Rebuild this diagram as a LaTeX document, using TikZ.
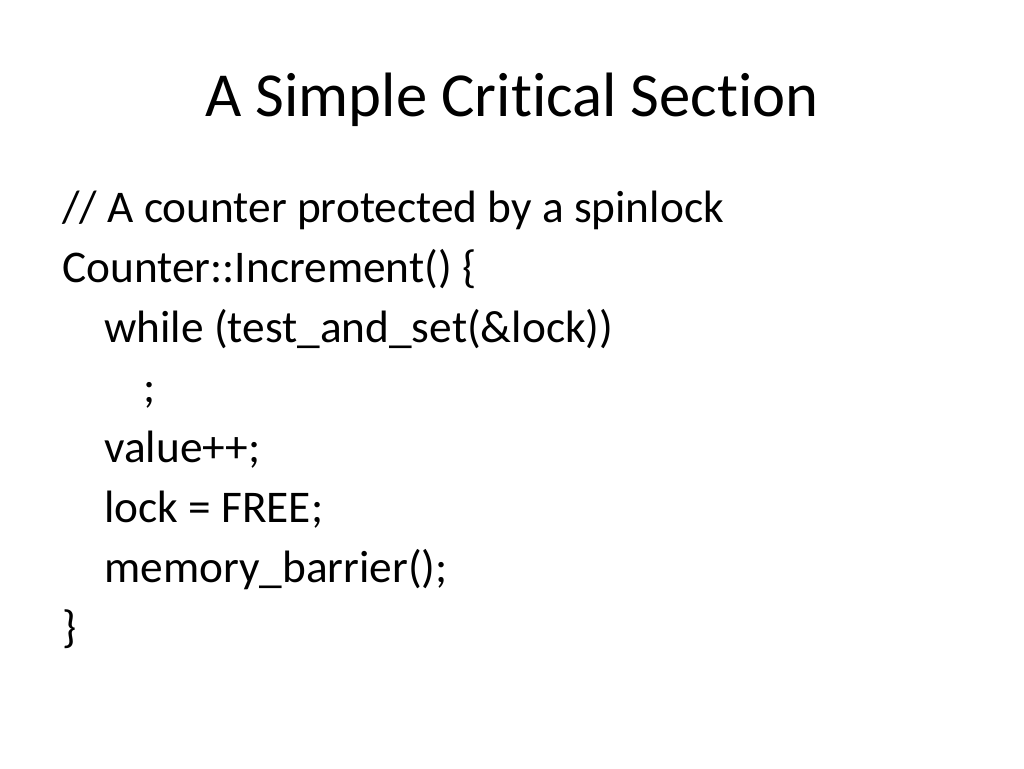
\documentclass[tikz,border=0pt]{standalone}
\usepackage{fontspec}
\setmainfont[Ligatures={NoCommon}]{Carlito}
\usetikzlibrary{positioning}

\begin{document}
\begin{tikzpicture}[x=0.75pt,y=-0.75pt,
	title/.style={anchor=base, inner sep=0pt, font=\fontsize{47}{50}\selectfont},
	codeline/.style={anchor=base west, inner sep=0pt, font=\fontsize{34}{38}\selectfont}]
		\useasboundingbox (0,0) rectangle (1024,768);
		\node[title] (head) at (512,116) {A Simple Critical Section};
		\node[codeline] (l0) at (62,222) {// A counter protected by a spinlock};
		\node[codeline] (l1) at (62,282) {Counter::Increment() \{};
		\node[codeline] (l2) at (104,342) {while (test\_and\_set(\&lock))};
		\node[codeline] (l3) at (143,402) {;};
		\node[codeline] (l4) at (104,462) {value++;};
		\node[codeline] (l5) at (104,522) {lock = FREE;};
		\node[codeline] (l6) at (104,582) {memory\_barrier();};
		\node[codeline] (l7) at (62,642) {\}};
	\end{tikzpicture}
\end{document}
